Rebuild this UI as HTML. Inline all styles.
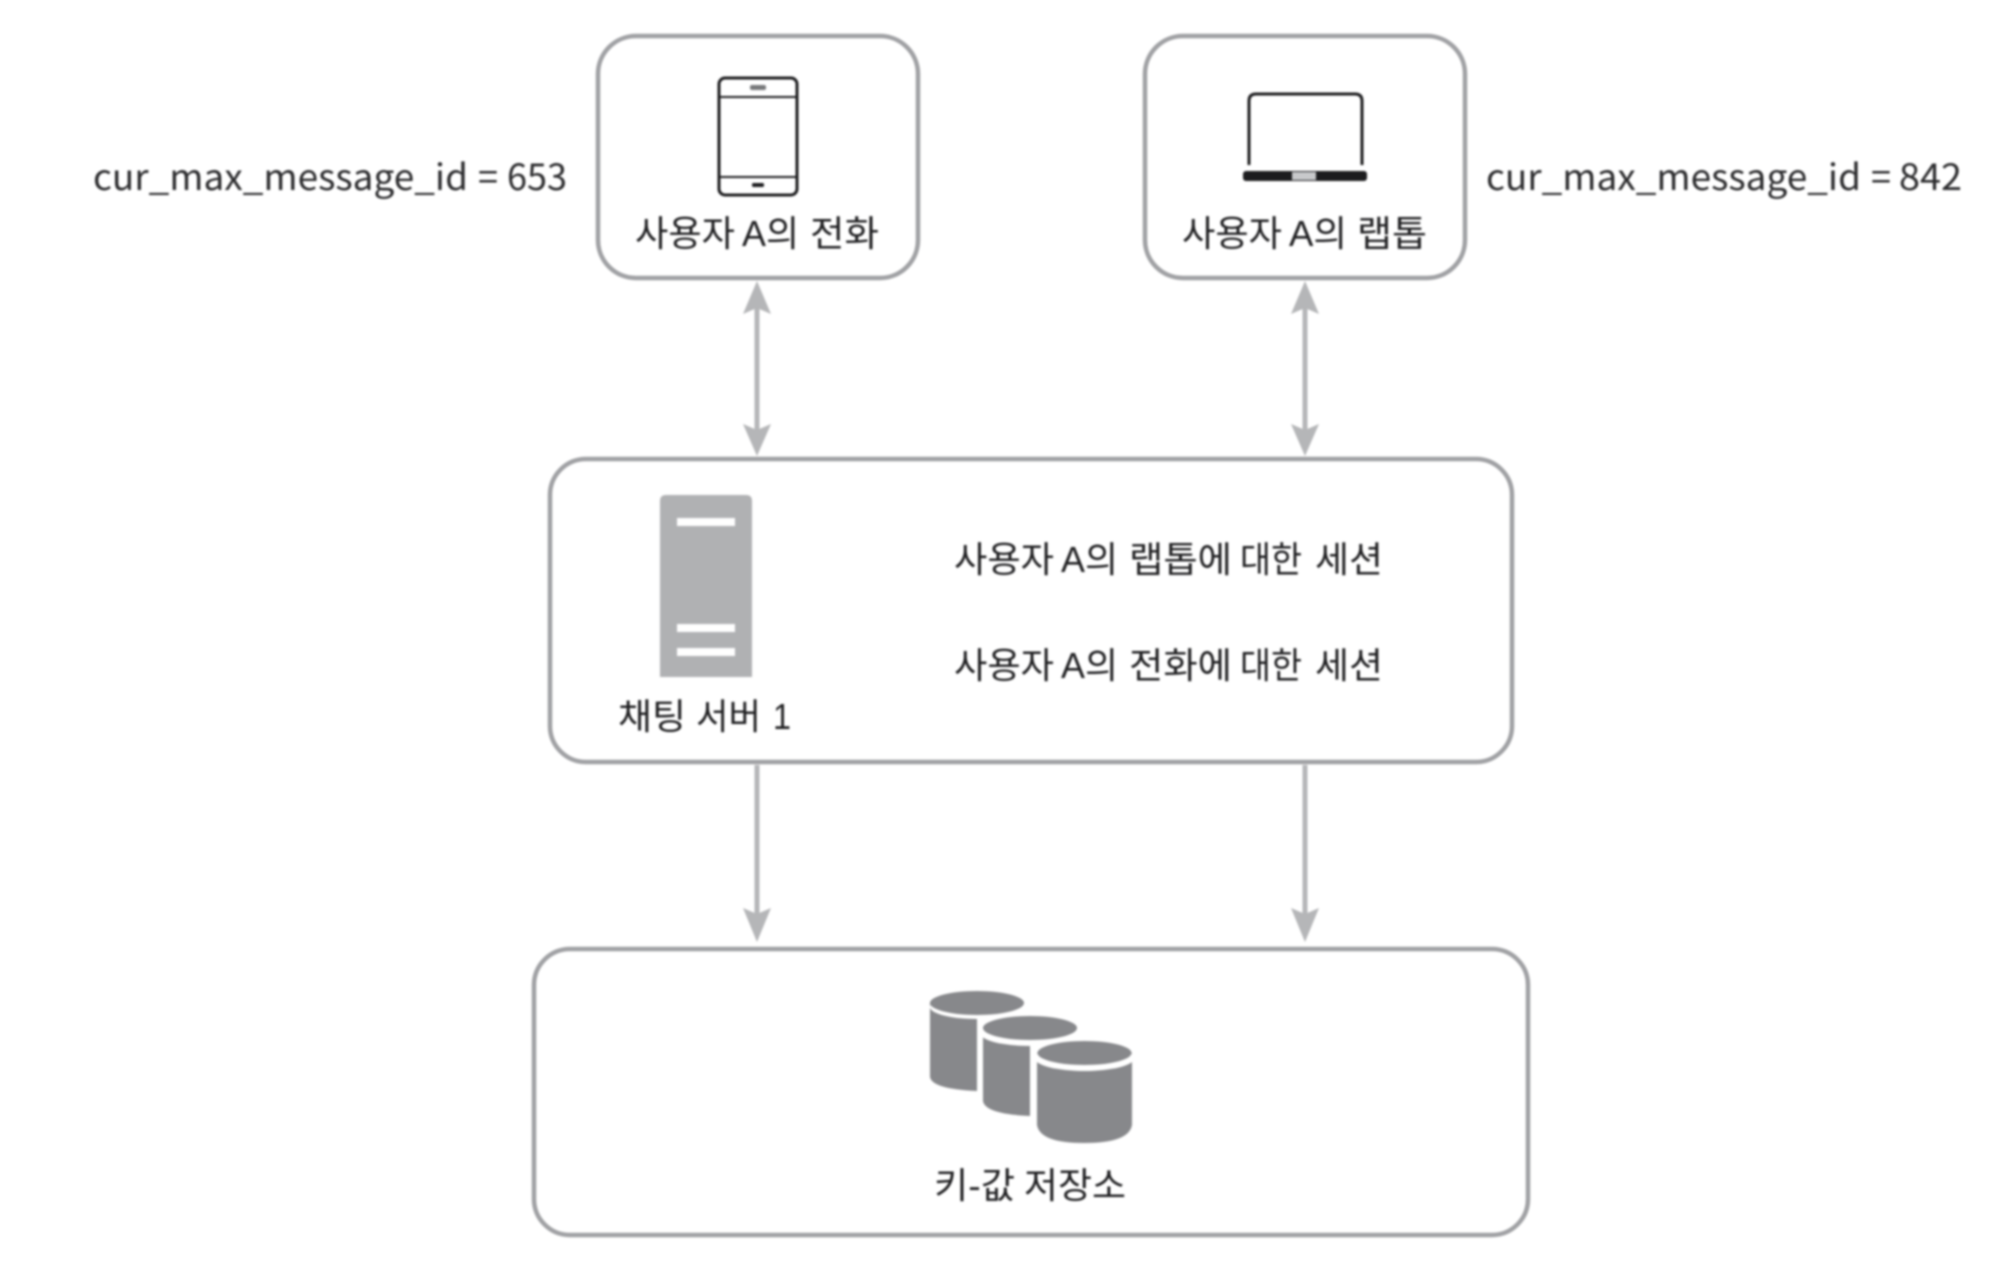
<!DOCTYPE html>
<html lang="ko">
<head>
<meta charset="utf-8">
<title>Diagram</title>
<style>
html,body{margin:0;padding:0;background:#fff;width:2000px;height:1276px;overflow:hidden}
svg{display:block;filter:blur(1.1px)}
text{font-family:"Liberation Sans","Noto Sans CJK KR",sans-serif;fill:#1f1f21;font-size:36px}
text.m{font-family:"Noto Sans CJK KR","Liberation Sans",sans-serif;fill:#2c2c2e}
.box{fill:#fff;stroke:#a0a1a4;stroke-width:4.5}
.ln{stroke:#b5b6b8;stroke-width:5;fill:none}
.hd{fill:#b5b6b8}
.ic{fill:none;stroke:#1c1c1e;stroke-width:3}
.c{fill:#87888b}
</style>
</head>
<body>
<svg width="2000" height="1276" viewBox="0 0 2000 1276" xmlns="http://www.w3.org/2000/svg">
<rect width="2000" height="1276" fill="#fff"/>

<!-- boxes -->
<rect class="box" x="598" y="36" width="320" height="242" rx="38"/>
<rect class="box" x="1145" y="36" width="320" height="242" rx="38"/>
<rect class="box" x="550" y="459" width="962" height="303" rx="36"/>
<rect class="box" x="534" y="949" width="994" height="286" rx="36"/>

<!-- connectors -->
<path class="ln" d="M757 300V440M1305 300V440M757 765V915M1305 765V915"/>
<path class="hd" d="M757 281L771 314L757 308L743 314Z"/>
<path class="hd" d="M1305 281L1319 314L1305 308L1291 314Z"/>
<path class="hd" d="M757 456L743 424L757 430L771 424Z"/>
<path class="hd" d="M1305 456L1291 424L1305 430L1319 424Z"/>
<path class="hd" d="M757 942L743 908L757 914L771 908Z"/>
<path class="hd" d="M1305 942L1291 908L1305 914L1319 908Z"/>

<!-- phone -->
<rect class="ic" x="719" y="78" width="78" height="117" rx="6"/>
<path d="M719 97H797M719 177H797" stroke="#1c1c1e" stroke-width="2" fill="none"/>
<rect x="750" y="85" width="16" height="5" rx="2" fill="#77787a"/>
<rect x="752" y="183" width="12" height="4" rx="1.5" fill="#1c1c1e"/>

<!-- laptop -->
<path class="ic" d="M1249 165V101Q1249 94 1256 94H1355Q1362 94 1362 101V165"/>
<rect x="1243" y="171" width="124" height="10" rx="3" fill="#1c1c1e"/>
<rect x="1292" y="172" width="24" height="8" fill="#c8c9cb"/>

<!-- server -->
<path d="M660 501Q660 495 666 495H746Q752 495 752 501V677H660Z" fill="#b0b1b3"/>
<rect x="677" y="518" width="58" height="8" fill="#fff"/>
<rect x="677" y="624" width="58" height="8" fill="#fff"/>
<rect x="677" y="648" width="58" height="8" fill="#fff"/>

<!-- cylinders -->
<g>
<path class="c" d="M930 1003V1077Q932 1089 977 1091V1003Z"/>
<ellipse cx="977" cy="1007" rx="47" ry="12" fill="#fff"/>
<ellipse class="c" cx="977" cy="1003" rx="47" ry="12"/>
</g>
<g>
<path d="M979 1023H1082V1121H979Z" fill="#fff"/>
<path class="c" d="M983 1028V1101Q985 1114 1030 1116V1028Z"/>
<ellipse cx="1030" cy="1033" rx="50" ry="13" fill="#fff"/>
<ellipse class="c" cx="1030" cy="1028" rx="47" ry="12"/>
</g>
<g>
<path d="M1033 1049H1136V1147H1033Z" fill="#fff"/>
<path class="c" d="M1037 1053V1125Q1040 1143 1084 1143Q1129 1143 1132 1125V1053Z"/>
<ellipse cx="1084.500" cy="1058" rx="50" ry="13" fill="#fff"/>
<ellipse class="c" cx="1084.500" cy="1053" rx="47" ry="12"/>
</g>

<!-- labels -->
<text class="m" x="93" y="190" textLength="375" lengthAdjust="spacingAndGlyphs">cur_max_message_id</text>
<text class="m" x="478" y="190" textLength="20" lengthAdjust="spacingAndGlyphs">=</text>
<text class="m" x="507" y="190" textLength="60" lengthAdjust="spacingAndGlyphs">653</text>
<text class="m" x="1486" y="190" textLength="375" lengthAdjust="spacingAndGlyphs">cur_max_message_id</text>
<text class="m" x="1871" y="190" textLength="20" lengthAdjust="spacingAndGlyphs">=</text>
<text class="m" x="1899" y="190" textLength="63" lengthAdjust="spacingAndGlyphs">842</text>

<text x="635" y="246" textLength="100" lengthAdjust="spacingAndGlyphs">사용자</text>
<text x="742" y="246" textLength="57" lengthAdjust="spacingAndGlyphs">A의</text>
<text x="810" y="246" textLength="69" lengthAdjust="spacingAndGlyphs">전화</text>

<text x="1182" y="246" textLength="100" lengthAdjust="spacingAndGlyphs">사용자</text>
<text x="1289" y="246" textLength="58" lengthAdjust="spacingAndGlyphs">A의</text>
<text x="1357" y="246" textLength="70" lengthAdjust="spacingAndGlyphs">랩톱</text>

<text x="954" y="572" textLength="100" lengthAdjust="spacingAndGlyphs">사용자</text>
<text x="1061" y="572" textLength="57" lengthAdjust="spacingAndGlyphs">A의</text>
<text x="1129" y="572" textLength="103" lengthAdjust="spacingAndGlyphs">랩톱에</text>
<text x="1240" y="572" textLength="62" lengthAdjust="spacingAndGlyphs">대한</text>
<text x="1315" y="572" textLength="68" lengthAdjust="spacingAndGlyphs">세션</text>

<text x="954" y="678" textLength="100" lengthAdjust="spacingAndGlyphs">사용자</text>
<text x="1061" y="678" textLength="57" lengthAdjust="spacingAndGlyphs">A의</text>
<text x="1129" y="678" textLength="103" lengthAdjust="spacingAndGlyphs">전화에</text>
<text x="1240" y="678" textLength="62" lengthAdjust="spacingAndGlyphs">대한</text>
<text x="1315" y="678" textLength="68" lengthAdjust="spacingAndGlyphs">세션</text>

<text x="618" y="729" textLength="68" lengthAdjust="spacingAndGlyphs">채팅</text>
<text x="696" y="729" textLength="65" lengthAdjust="spacingAndGlyphs">서버</text>
<text x="773" y="729" textLength="18" lengthAdjust="spacingAndGlyphs">1</text>

<text x="934" y="1198" textLength="81" lengthAdjust="spacingAndGlyphs">키-값</text>
<text x="1024" y="1198" textLength="102" lengthAdjust="spacingAndGlyphs">저장소</text>
</svg>
</body>
</html>
